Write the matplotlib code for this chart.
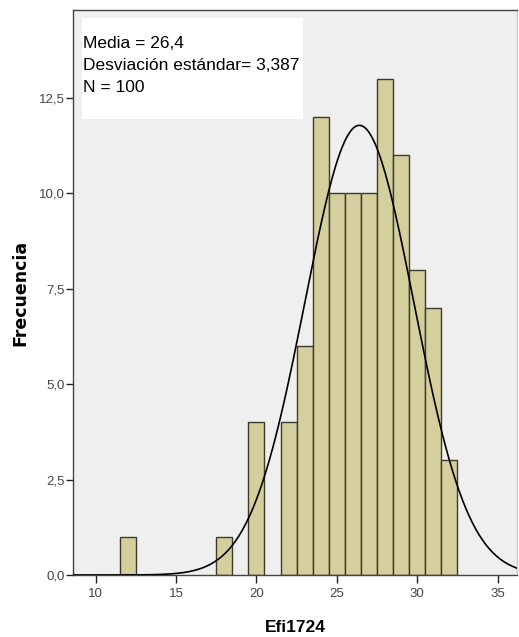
import matplotlib
matplotlib.use("Agg")
import matplotlib.pyplot as plt
import numpy as np
from matplotlib.patches import Rectangle

# histogram of Efi1724 (bins of width 1 centred on integers)
bin_centers = [12, 18, 20, 22, 23, 24, 25, 26, 27, 28, 29, 30, 31, 32]
counts = [1, 1, 4, 4, 6, 12, 10, 10, 10, 13, 11, 8, 7, 3]
mean = 26.4
sd = 3.387
n = 100
x_ticks = [10, 15, 20, 25, 30, 35]
y_ticks = [0.0, 2.5, 5.0, 7.5, 10.0, 12.5]
stats_lines = ["Media = 26,4", "Desviación estándar= 3,387", "N = 100"]

plt.rcParams["font.family"] = ["Liberation Sans Narrow", "Liberation Sans", "DejaVu Sans"]

W, H = 519, 637
fig = plt.figure(figsize=(W / 100, H / 100), dpi=100)
fig.patch.set_facecolor("white")
ax = fig.add_axes([73 / W, 1 - 575 / H, (517 - 73) / W, (575 - 10) / H])
ax.set_facecolor("#efefef")

ax.bar(bin_centers, counts, width=1.0, color="#d4cf9c", edgecolor="#3b3a2c",
       linewidth=1.0, zorder=2)

xs = np.linspace(8.6, 36.2, 400)
pdf = n * 1.0 / (sd * np.sqrt(2 * np.pi)) * np.exp(-0.5 * ((xs - mean) / sd) ** 2)
ax.plot(xs, pdf, color="black", linewidth=1.2, zorder=3)

ax.set_xlim(8.6, 36.2)
ax.set_ylim(0, 14.8)
ax.set_xticks(x_ticks)
ax.set_xticklabels([str(t) for t in x_ticks])
ax.set_yticks(y_ticks)
ax.set_yticklabels([f"{t:.1f}".replace(".", ",") for t in y_ticks])
ax.tick_params(axis="both", direction="out", length=6, width=1, colors="#222222",
               labelsize=9.5, labelcolor="#444444")
ax.tick_params(axis="y", pad=1, length=5)

for s in ["left", "bottom", "top", "right"]:
    ax.spines[s].set_color("#444444")
    ax.spines[s].set_linewidth(1.0)
ax.spines["right"].set_color("#cccccc")

ax.set_xlabel("Efi1724", fontsize=12.5, fontweight="bold",
              family=["Liberation Sans", "DejaVu Sans"], labelpad=14)
ax.set_ylabel("Frecuencia", fontsize=12.5, fontweight="bold",
              family=["DejaVu Sans"], labelpad=7)

# white stats box in the top-left corner
box = Rectangle((82 / W, 1 - 119 / H), (303 - 82) / W, (119 - 18) / H,
                transform=fig.transFigure, facecolor="white", edgecolor="none", zorder=4)
fig.patches.append(box)
for i, line in enumerate(stats_lines):
    fig.text(83 / W, 1 - (43 + i * 22.5) / H, line, fontsize=12.5, color="black",
             va="center", ha="left", zorder=5)

fig.savefig("out.png", dpi=100)
